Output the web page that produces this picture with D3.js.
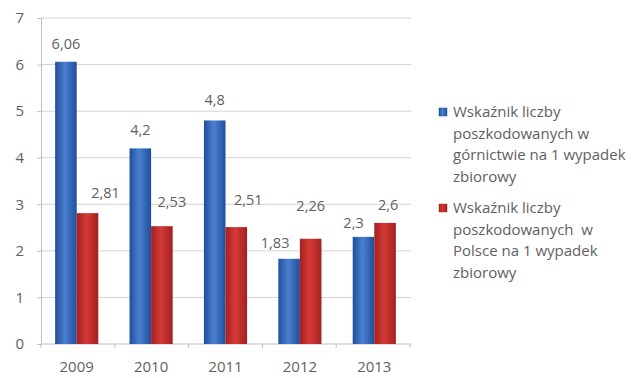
<!DOCTYPE html>
<html lang="pl">
<head>
  <meta charset="UTF-8">
  <title>wskaznik</title>
  <script src="https://d3js.org/d3.v7.min.js"></script>
  <style>
    body { margin: 0; background: #fff; }
    text { font-family: "Open Sans", "DejaVu Sans", sans-serif; fill: #5f5f5f; white-space: pre; }
  </style>
</head>
<body>
  <svg id="chart" width="638" height="378"></svg>

  <script>
    const years = ["2009", "2010", "2011", "2012", "2013"];
    const mining = [6.06, 4.2, 4.8, 1.83, 2.3];
    const poland = [2.81, 2.53, 2.51, 2.26, 2.6];
    const yTicks = [0, 1, 2, 3, 4, 5, 6, 7];
    const legendMining = ["Wskaźnik liczby", "poszkodowanych w", "górnictwie na 1 wypadek", "zbiorowy"];
    const legendPoland = ["Wskaźnik liczby", "poszkodowanych  w", "Polsce na 1 wypadek", "zbiorowy"];

    // label nudges (px) - labels in the original were dragged by hand
    const miningNudge = [[0, 0], [0, 0], [0, -2], [-14, 2], [-10, 4]];
    const polandNudge = [[18, 0], [10, -4], [12, -7], [0, -13], [3, 2]];

    const svg = d3.select("#chart");
    const margin = { top: 18, right: 228, bottom: 34, left: 41 };
    const chartWidth = 638 - margin.left - margin.right;
    const chartHeight = 378 - margin.top - margin.bottom;

    const defs = svg.append("defs");
    function barGradient(id, edge, mid) {
      const g = defs.append("linearGradient").attr("id", id)
        .attr("x1", "0%").attr("x2", "100%").attr("y1", "0%").attr("y2", "0%");
      g.append("stop").attr("offset", "0%").attr("stop-color", edge);
      g.append("stop").attr("offset", "45%").attr("stop-color", mid);
      g.append("stop").attr("offset", "100%").attr("stop-color", edge);
    }
    barGradient("blueGrad", "#1f4f9c", "#4b7fd0");
    barGradient("redGrad", "#a3201f", "#d43b37");

    const chart = svg.append("g")
      .attr("transform", "translate(" + margin.left + "," + margin.top + ")");

    const y = d3.scaleLinear().domain([0, 7]).range([chartHeight, 0]);
    const x = d3.scaleBand().domain(years).range([0, chartWidth]).paddingInner(0.42).paddingOuter(0.19);
    const xs = d3.scaleBand().domain(["m", "p"]).range([0, x.bandwidth()]);

    // gridlines
    chart.append("g").selectAll("line").data(yTicks.filter(d => d > 0))
      .join("line")
      .attr("x1", 0).attr("x2", chartWidth + 1)
      .attr("y1", d => y(d)).attr("y2", d => y(d))
      .attr("stroke", "#d4d4d4").attr("stroke-width", 1);

    // y axis
    const yAxis = chart.append("g")
      .call(d3.axisLeft(y).tickValues(yTicks).tickFormat(d3.format("d")).tickSize(4).tickPadding(13));
    yAxis.select(".domain").attr("stroke", "#bfbfbf");
    yAxis.selectAll(".tick line").attr("stroke", "#bfbfbf");
    yAxis.selectAll(".tick text").style("font-size", "15px").attr("fill", "#5f5f5f")
      .style("font-family", "'Open Sans', sans-serif");

    // x axis
    const xAxisG = chart.append("g").attr("transform", "translate(0," + chartHeight + ")");
    xAxisG.append("line").attr("x1", 0).attr("x2", chartWidth + 1)
      .attr("y1", 0).attr("y2", 0).attr("stroke", "#bfbfbf");
    xAxisG.selectAll("line.tk").data(d3.range(years.length + 1))
      .join("line").attr("class", "tk")
      .attr("x1", d => d * chartWidth / years.length).attr("x2", d => d * chartWidth / years.length)
      .attr("y1", 0).attr("y2", 4).attr("stroke", "#bfbfbf");
    xAxisG.selectAll("text").data(years)
      .join("text")
      .attr("x", d => x(d) + x.bandwidth() / 2)
      .attr("y", 28)
      .attr("text-anchor", "middle")
      .style("font-size", "15px")
      .text(d => d);

    const fmt = v => String(v).replace(".", ",");

    // bars
    const groups = chart.selectAll("g.year").data(years)
      .join("g").attr("class", "year")
      .attr("transform", d => "translate(" + x(d) + ",0)");

    groups.append("rect")
      .attr("x", xs("m")).attr("width", xs.bandwidth())
      .attr("y", (d, i) => y(mining[i]))
      .attr("height", (d, i) => chartHeight - y(mining[i]))
      .attr("fill", "url(#blueGrad)");
    groups.append("rect")
      .attr("x", xs("p")).attr("width", xs.bandwidth())
      .attr("y", (d, i) => y(poland[i]))
      .attr("height", (d, i) => chartHeight - y(poland[i]))
      .attr("fill", "url(#redGrad)");

    // value labels
    groups.append("text")
      .attr("x", (d, i) => xs("m") + xs.bandwidth() / 2 + miningNudge[i][0])
      .attr("y", (d, i) => y(mining[i]) - 13 + miningNudge[i][1])
      .attr("text-anchor", "middle").style("font-size", "14.5px")
      .text((d, i) => fmt(mining[i]));
    groups.append("text")
      .attr("x", (d, i) => xs("p") + xs.bandwidth() / 2 + polandNudge[i][0])
      .attr("y", (d, i) => y(poland[i]) - 15 + polandNudge[i][1])
      .attr("text-anchor", "middle").style("font-size", "14.5px")
      .text((d, i) => fmt(poland[i]));

    // legend
    const legend = svg.append("g").attr("transform", "translate(439,112)");
    const items = [
      { lines: legendMining, fill: "url(#blueGrad)", stroke: "#2a5aa8" },
      { lines: legendPoland, fill: "url(#redGrad)", stroke: "#b02a28" }
    ];
    items.forEach((it, k) => {
      const g = legend.append("g").attr("transform", "translate(0," + (k * 96) + ")");
      g.append("rect").attr("x", 0).attr("y", -4).attr("width", 8).attr("height", 8)
        .attr("fill", it.fill).attr("stroke", it.stroke).attr("stroke-width", 0.5);
      g.selectAll("text").data(it.lines).join("text")
        .attr("x", 14)
        .attr("y", (d, i) => i * 21.5 + 5)
        .style("font-size", "15px")
        .text(d => d);
    });
  </script>
</body>
</html>
